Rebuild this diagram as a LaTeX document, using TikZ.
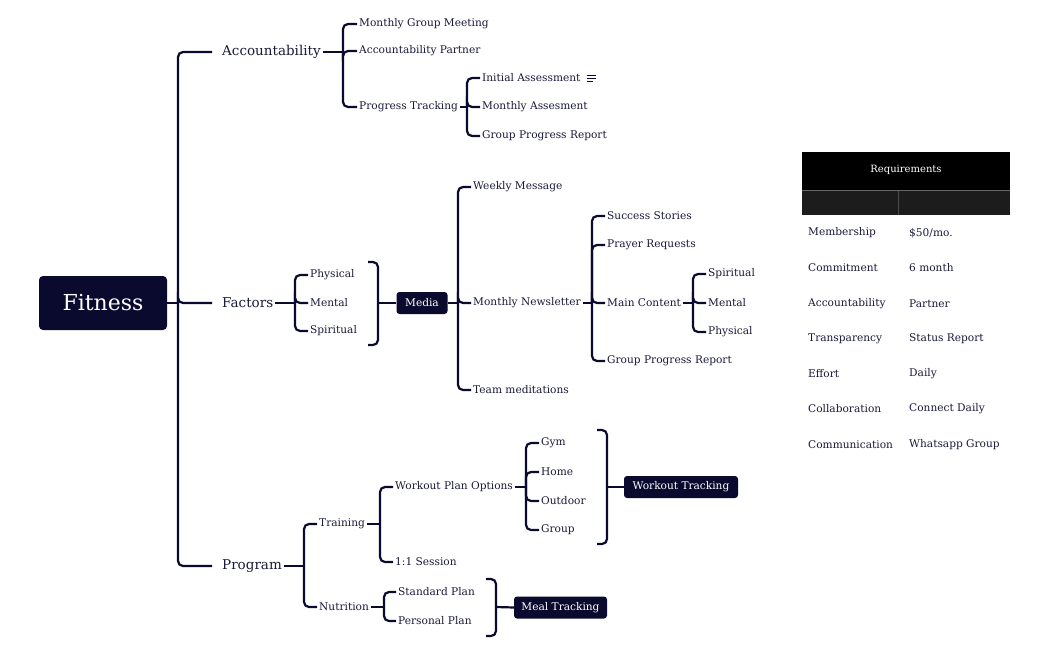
\documentclass[tikz,border=0pt]{standalone}
\usepackage{fontspec}
\setmainfont{DejaVu Serif}
\definecolor{navy}{HTML}{0A0A2E}
\definecolor{ink}{HTML}{1A1A3A}
\definecolor{hdr2}{HTML}{1C1C1C}
\begin{document}
\begin{tikzpicture}[x=1pt,y=-1pt,
  lbl/.style={anchor=west,inner sep=2pt,text=ink,font=\fontsize{10.6}{12}\selectfont},
  main/.style={anchor=west,inner sep=2pt,text=ink,font=\fontsize{13.5}{15}\selectfont},
  box/.style={fill=navy,text=white,rounded corners=3pt,inner sep=0pt,font=\fontsize{10.6}{12}\selectfont},
  ln/.style={draw=navy,line width=2.2pt,rounded corners=5pt},
  tcell/.style={anchor=west,inner sep=0pt,text=ink,font=\fontsize{10.6}{12}\selectfont}]
\useasboundingbox (0,0) rectangle (1049,650);
\fill[white] (0,0) rectangle (1049,650);
% root
\node[fill=navy,text=white,rounded corners=4pt,minimum width=128pt,minimum height=54pt,inner sep=0pt,font=\fontsize{22}{26}\selectfont] (root) at (103,303) {Fitness};
\node[main] (acc) at (220,52) {Accountability};
\node[main] (fac) at (220,303) {Factors};
\node[main] (prg) at (220,566) {Program};
\coordinate (rb) at (178,303);
\draw[ln] (root.east) -- (rb);
\foreach \c in {acc,fac,prg} \draw[ln] (rb) |- ([xshift=-8pt]\c.west);
% accountability
\node[lbl] (a1) at (357,24) {Monthly Group Meeting};
\node[lbl] (a2) at (357,51) {Accountability Partner};
\node[lbl] (a3) at (357,107) {Progress Tracking};
\coordinate (ab) at (343,52);
\draw[ln] (acc.east) -- (ab);
\foreach \c in {a1,a2,a3} \draw[ln] (ab) |- (\c.west);
\node[lbl] (p1) at (480,78) {Initial Assessment};
\node[lbl] (p2) at (480,107) {Monthly Assesment};
\node[lbl] (p3) at (480,136) {Group Progress Report};
\coordinate (pb) at (467,107);
\draw[ln] (a3.east) -- (pb);
\foreach \c in {p1,p2,p3} \draw[ln] (pb) |- (\c.west);
\node[inner sep=0pt] (ic) at (591,78) {\tikz[x=1pt,y=-1pt]{\draw[navy,line width=0.9pt] (0,0)--(9,0) (0,3)--(9,3) (0,6)--(6,6);}};
% factors
\node[lbl] (f1) at (308,275) {Physical};
\node[lbl] (f2) at (308,303) {Mental};
\node[lbl] (f3) at (308,331) {Spiritual};
\coordinate (fb) at (295,303);
\draw[ln] (fac.east) -- (fb);
\foreach \c in {f1,f2,f3} \draw[ln] (fb) |- (\c.west);
\coordinate (fr1) at (368,262); \coordinate (fr2) at (368,345); \coordinate (frm) at (378,303);
\draw[ln] (fr1) -| (frm) |- (fr2);
\node[box,minimum width=51pt,minimum height=22pt] (media) at (422,303) {Media};
\draw[ln] (frm) -- (media.west);
\node[lbl] (m1) at (471,187) {Weekly Message};
\node[lbl] (m2) at (471,303) {Monthly Newsletter};
\node[lbl] (m3) at (471,390) {Team meditations};
\coordinate (mb) at (458,303);
\draw[ln] (media.east) -- (mb);
\foreach \c in {m1,m2,m3} \draw[ln] (mb) |- (\c.west);
\node[lbl] (n1) at (605,216) {Success Stories};
\node[lbl] (n2) at (605,245) {Prayer Requests};
\node[lbl] (n3) at (605,303) {Main Content};
\node[lbl] (n4) at (605,361) {Group Progress Report};
\coordinate (nb) at (592,303);
\draw[ln] (m2.east) -- (nb);
\foreach \c in {n1,n2,n3,n4} \draw[ln] (nb) |- (\c.west);
\node[lbl] (c1) at (706,274) {Spiritual};
\node[lbl] (c2) at (706,303) {Mental};
\node[lbl] (c3) at (706,332) {Physical};
\coordinate (cb) at (693,303);
\draw[ln] (n3.east) -- (cb);
\foreach \c in {c1,c2,c3} \draw[ln] (cb) |- (\c.west);
% program
\node[lbl] (g1) at (317,524) {Training};
\node[lbl] (g2) at (317,607) {Nutrition};
\coordinate (gb) at (304,566);
\draw[ln] (prg.east) -- (gb);
\foreach \c in {g1,g2} \draw[ln] (gb) |- (\c.west);
\node[lbl] (t1) at (393,487) {Workout Plan Options};
\node[lbl] (t2) at (393,562) {1:1 Session};
\coordinate (tb) at (380,524);
\draw[ln] (g1.east) -- (tb);
\foreach \c in {t1,t2} \draw[ln] (tb) |- (\c.west);
\node[lbl] (w1) at (539,443) {Gym};
\node[lbl] (w2) at (539,472) {Home};
\node[lbl] (w3) at (539,501) {Outdoor};
\node[lbl] (w4) at (539,530) {Group};
\coordinate (wb) at (526,487);
\draw[ln] (t1.east) -- (wb);
\foreach \c in {w1,w2,w3,w4} \draw[ln] (wb) |- (\c.west);
\coordinate (wr1) at (597,430); \coordinate (wr2) at (597,544); \coordinate (wrm) at (607,487);
\draw[ln] (wr1) -| (wrm) |- (wr2);
\node[box,minimum width=114pt,minimum height=22pt] (wt) at (681,487) {Workout Tracking};
\draw[ln] (wrm) -- (wt.west);
\node[lbl] (s1) at (396,592) {Standard Plan};
\node[lbl] (s2) at (396,621) {Personal Plan};
\coordinate (sb) at (384,607);
\draw[ln] (g2.east) -- (sb);
\foreach \c in {s1,s2} \draw[ln] (sb) |- (\c.west);
\coordinate (sr1) at (486,579); \coordinate (sr2) at (486,636); \coordinate (srm) at (496,607);
\draw[ln] (sr1) -| (srm) |- (sr2);
\node[box,minimum width=93pt,minimum height=22pt] (mt) at (560.5,607.5) {Meal Tracking};
\draw[ln] (srm) -- (mt.west);
% table
\fill[black] (802,152) rectangle (1010,190);
\fill[hdr2] (802,190) rectangle (1010,215);
\draw[black!70,line width=0.5pt] (898,190) -- (898,215);
\draw[black!60,line width=0.4pt] (802,190) -- (1010,190);
\node[text=white,inner sep=0pt,font=\fontsize{10}{12}\selectfont] (th) at (906,170) {Requirements};
\foreach \a/\b/\y [count=\i] in {Membership/\$50\slash mo./233,Commitment/6 month/268,Accountability/Partner/304,Transparency/Status Report/339,Effort/Daily/374,Collaboration/Connect Daily/409,Communication/Whatsapp Group/445}{
  \node[tcell] (ta\i) at (808,\y) {\a};
  \node[tcell] (tb\i) at (909,\y) {\b};
}
\end{tikzpicture}
\end{document}
